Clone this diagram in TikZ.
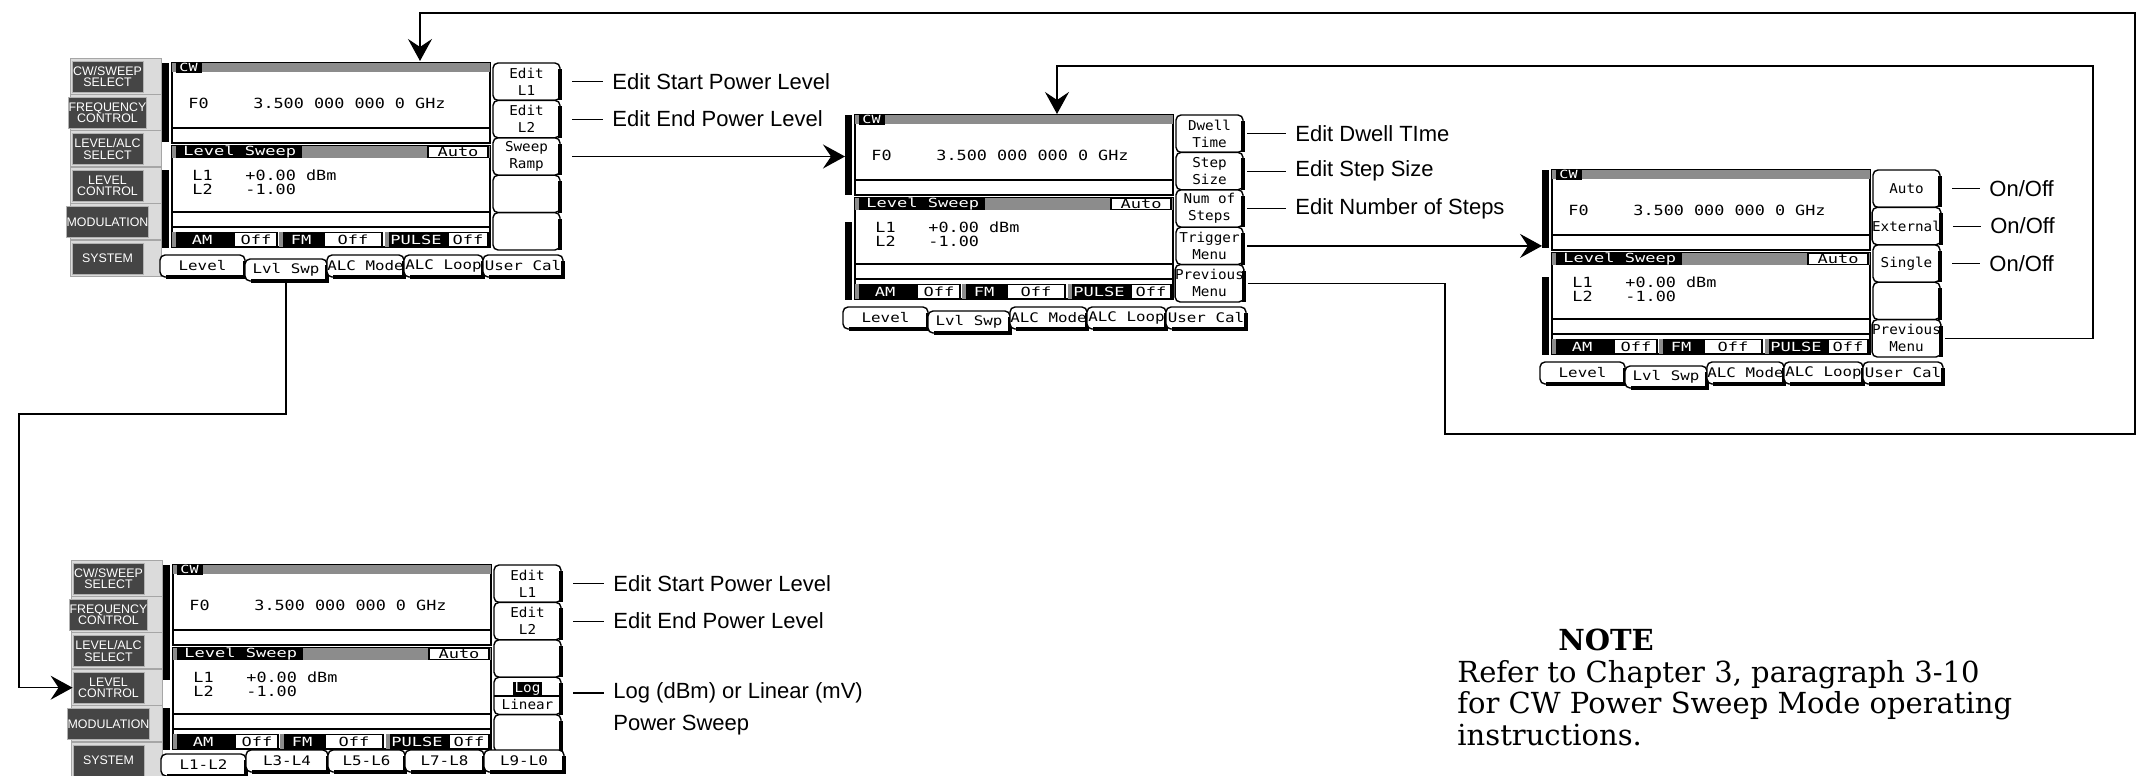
\documentclass[tikz,border=0pt]{standalone}
\usepackage{fontspec}
\setsansfont{Liberation Sans}
\setmonofont{DejaVu Sans Mono}
\newfontfamily\lcdfont{DejaVu Sans Mono}[FakeStretch=1.2]
\newfontfamily\lcdwide{DejaVu Sans Mono}[FakeStretch=1.35]
\newfontfamily\keyfont{DejaVu Sans Mono}[FakeStretch=1.05]
\newfontfamily\notefont{DejaVu Serif}
\usepackage{tikz}
\usetikzlibrary{arrows.meta, positioning, calc}
\definecolor{stipple}{gray}{0.55}
\definecolor{keygray}{gray}{0.27}
\definecolor{panelgray}{gray}{0.86}
\tikzset{
  lcdline/.style={line width=0.9pt},
  lcdtxt/.style={font=\lcdfont\fontsize{7}{7}\selectfont, inner sep=0, anchor=west},
  headtxt/.style={font=\lcdwide\fontsize{6.3}{6.3}\selectfont, inner sep=0, anchor=west},
  invtxt/.style={headtxt, text=white},
  softkey/.style={
    draw, line width=0.7pt, rounded corners=2.5pt, fill=white,
    minimum width=33.5pt, minimum height=18.7pt, inner sep=0, outer sep=0,
    align=center, font=\keyfont\fontsize{6.8}{8.5}\selectfont
  },
  tabkey/.style={
    draw, line width=0.7pt, rounded corners=2.5pt, fill=white,
    minimum height=11pt, inner sep=0, outer sep=0,
    font=\lcdfont\fontsize{6.6}{7}\selectfont
  },
  keyshadow/.style={line width=1.8pt},
  panelbox/.style={draw=gray!70, fill=panelgray, line width=0.5pt},
  panelkey/.style={
    draw=gray!60, fill=keygray, text=white, minimum width=35.5pt,
    minimum height=15.5pt, inner sep=0, align=center,
    font=\sffamily\fontsize{6.2}{5.8}\selectfont
  },
  lbl/.style={anchor=west, inner sep=0, inner xsep=4.5pt, font=\sffamily\fontsize{11}{13}\selectfont},
  leader/.style={line width=0.6pt},
  flow/.style={line width=0.6pt, -{Stealth[length=11pt, width=12pt, inset=4pt]}},
  notehead/.style={font=\notefont\bfseries\fontsize{14.5}{16}\selectfont, inner sep=0},
  notetext/.style={anchor=west, align=left, inner sep=0, font=\notefont\fontsize{14.5}{15.8}\selectfont},
}

% display panes of one screen: #1 name, #2 origin, #3 end of upper bar, #4 start of lower bar
\newcommand{\lcdpanes}[4]{%
  \begin{scope}[shift={#2}]
    \coordinate (#1-nw) at (-10,0);
    \fill (-10,0) rectangle (-3,#3);
    \fill (-10,#4) rectangle (-3,185);
    % CW pane
    \draw[lcdline] (0,0) rectangle (318,80);
    \fill[stipple] (0,0) rectangle (318,9);
    \fill (4,0) rectangle (30,9.5);
    \node[invtxt, font=\lcdwide\fontsize{5.6}{5.6}\selectfont] at (7,4.8) {CW};
    \draw[lcdline] (0,65) -- (318,65);
    \node[lcdtxt] at (16,40) {F0};
    \node[lcdtxt] at (81,40) {3.500 000 000 0 GHz};
    % level sweep pane
    \draw[lcdline] (0,83) rectangle (318,184);
    \fill[stipple] (0,83) rectangle (318,95);
    \fill (4,83) rectangle (130,95);
    \node[invtxt] at (11,89) {Level Sweep};
    \draw[line width=0.6pt, fill=white] (256,83.5) rectangle (316,94.5);
    \node[headtxt, anchor=center] at (286,89) {Auto};
    \node[lcdtxt] at (20,112) {L1};
    \node[lcdtxt] at (73,112) {+0.00 dBm};
    \node[lcdtxt] at (20,126) {L2};
    \node[lcdtxt] at (73,126) {-1.00};
    \draw[lcdline] (0,149) -- (318,149);
    \draw[lcdline] (0,164) -- (318,164);
    % status row
    \fill (0,169) rectangle (61,184);
    \fill (107,169) rectangle (151,184);
    \fill (213,169) rectangle (275,184);
    \fill[stipple] (0,169) rectangle (4,184);
    \fill[stipple] (107,169) rectangle (111,184);
    \fill[stipple] (213,169) rectangle (217,184);
    \draw[line width=0.6pt, fill=white] (62,169.5) rectangle (105,183.5);
    \draw[line width=0.6pt, fill=white] (152,169.5) rectangle (210,183.5);
    \draw[line width=0.6pt, fill=white] (276,169.5) rectangle (316,183.5);
    \node[invtxt, anchor=center] at (30,176.5) {AM};
    \node[invtxt, anchor=center] at (129,176.5) {FM};
    \node[invtxt, anchor=center] at (244,176.5) {PULSE};
    \node[headtxt, anchor=center] at (84,176.5) {Off};
    \node[headtxt, anchor=center] at (181,176.5) {Off};
    \node[headtxt, anchor=center] at (296,176.5) {Off};
  \end{scope}}

% softkeys at the right: #1 name, #2 origin, #3 labels
\newcommand{\softkeys}[3]{%
  \begin{scope}[shift={#2}]
    \foreach \lab [count=\i] in {#3} {
      \node[softkey] (#1-k\i) at (354.5,{37.4*\i-18.7}) {\lab};
      \draw[keyshadow] ([yshift=-3pt]#1-k\i.north east) -- (#1-k\i.south east);
    }
  \end{scope}}

% tabs below: #1 name, #2 origin, #3 selected tab, #4 labels
\newcommand{\tabrow}[4]{%
  \begin{scope}[shift={#2}]
    \foreach \lab [count=\i] in {#4} {
      \pgfmathsetmacro{\xa}{{-12,73,155,232,311}[\i-1]}
      \pgfmathsetmacro{\xb}{{73,155,232,311,391}[\i-1]}
      \pgfmathsetmacro{\dy}{\i==#3 ? 4 : 0}
      \node[tabkey, minimum width={(\xb-\xa)*0.5pt}] (#1-t\i) at ({(\xa+\xb)/2},{203+\dy}) {\lab};
      \draw[keyshadow] ([xshift=3pt]#1-t\i.south west) -- (#1-t\i.south east) -- ([yshift=-3pt]#1-t\i.north east);
    }
  \end{scope}}

% front panel keys at the left: #1 name, #2 origin
\newcommand{\frontpanel}[2]{%
  \begin{scope}[shift={#2}]
    \foreach \lab [count=\i] in {{CW/SWEEP\\SELECT},{FREQUENCY\\CONTROL},{LEVEL/ALC\\SELECT},{LEVEL\\CONTROL},MODULATION,SYSTEM} {
      \draw[panelbox] (-102,{36.4*\i-41.4}) rectangle (-11,{36.4*\i-5.4});
      \node[panelkey] (#1-b\i) at (-64.5,{36.4*\i-22.9}) {\lab};
    }
  \end{scope}}

\begin{document}
\begin{tikzpicture}[x=0.5pt, y=-0.5pt]
  \useasboundingbox (0,0) rectangle (2152,776);

  % Level sweep menu
  \frontpanel{s1}{(172,63)}
  \lcdpanes{s1}{(172,63)}{79}{107}
  \softkeys{s1}{(172,63)}{{Edit\\L1},{Edit\\L2},{Sweep\\Ramp},{},{}}
  \tabrow{s1}{(172,63)}{2}{Level,Lvl Swp,ALC Mode,ALC Loop,User Cal}
  \node[lbl] (s1-l1) at ([xshift=21.5pt]s1-k1.east) {Edit Start Power Level};
  \node[lbl] (s1-l2) at ([xshift=21.5pt]s1-k2.east) {Edit End Power Level};
  \draw[leader] ([xshift=6pt]s1-k1.east) -- (s1-l1.west);
  \draw[leader] ([xshift=6pt]s1-k2.east) -- (s1-l2.west);

  % Sweep ramp menu
  \lcdpanes{s2}{(855,115)}{80}{107}
  \softkeys{s2}{(855,115)}{{Dwell\\Time},{Step\\Size},{Num of\\Steps},{Trigger\\Menu},{Previous\\Menu}}
  \tabrow{s2}{(855,115)}{2}{Level,Lvl Swp,ALC Mode,ALC Loop,User Cal}
  \node[lbl] (s2-l1) at ([xshift=21.5pt]s2-k1.east) {Edit Dwell TIme};
  \node[lbl] (s2-l2) at ([xshift=21.5pt]s2-k2.east) {Edit Step Size};
  \node[lbl] (s2-l3) at ([xshift=21.5pt]s2-k3.east) {Edit Number of Steps};
  \foreach \i in {1,2,3}
    \draw[leader] ([xshift=2pt]s2-k\i.east) -- (s2-l\i.west);

  % Trigger menu
  \lcdpanes{s3}{(1552,170)}{78}{107}
  \softkeys{s3}{(1552,170)}{Auto,External,Single,{},{Previous\\Menu}}
  \tabrow{s3}{(1552,170)}{2}{Level,Lvl Swp,ALC Mode,ALC Loop,User Cal}
  \foreach \i in {1,2,3} {
    \node[lbl] (s3-l\i) at ([xshift=20pt]s3-k\i.east) {On/Off};
    \draw[leader] ([xshift=6pt]s3-k\i.east) -- (s3-l\i.west);
  }

  % Level control menu
  \frontpanel{s4}{(173,565)}
  \lcdpanes{s4}{(173,565)}{115}{143}
  \softkeys{s4}{(173,565)}{{Edit\\L1},{Edit\\L2},{},{{\setlength{\fboxsep}{0.6pt}\colorbox{black}{\textcolor{white}{Log}}}\\Linear},{}}
  \tabrow{s4}{(173,558)}{1}{L1-L2,L3-L4,L5-L6,L7-L8,L9-L0}
  \draw[line width=0.6pt] (s4-k4.west) -- (s4-k4.east);
  \node[lbl] (s4-l1) at ([xshift=21.5pt]s4-k1.east) {Edit Start Power Level};
  \node[lbl] (s4-l2) at ([xshift=21.5pt]s4-k2.east) {Edit End Power Level};
  \node[lbl] (s4-l4) at ([xshift=21.5pt,yshift=1.5pt]s4-k4.east) {Log (dBm) or Linear (mV)};
  \node[lbl] (s4-l4b) at ([yshift=-16pt]s4-l4.west) {Power Sweep};
  \foreach \i in {1,2,4}
    \draw[leader] ([xshift=6pt]s4-k\i.east |- s4-l\i.west) -- (s4-l\i.west);

  % menu links
  \coordinate (back1) at (1445,434);
  \coordinate (back2) at (2135,13);
  \coordinate (back3) at (2093,66);
  \coordinate (down1) at (19,414);
  \coordinate (s1-in) at (420,61);
  \coordinate (s2-in) at (1057,114);
  \draw[flow] ([xshift=6pt]s1-k3.east) -- (s1-k3.east -| s2-nw);
  \draw[flow] ([xshift=2pt]s2-k4.east) -- (s2-k4.east -| s3-nw);
  \draw[flow] ([xshift=2pt]s2-k5.east) -| (back1) -| (back2) -| (s1-in);
  \draw[flow] ([xshift=2pt]s3-k5.east) -| (back3) -| (s2-in);
  \draw[flow] (s1-t2.south) |- (down1) |- (s4-b4.west);

  % note
  \node[notehead] (note-head) at (1606,640) {NOTE};
  \node[notetext] (note) at (1457,703) {Refer to Chapter 3, paragraph 3-10\\for CW Power Sweep Mode operating\\instructions.};
\end{tikzpicture}
\end{document}
